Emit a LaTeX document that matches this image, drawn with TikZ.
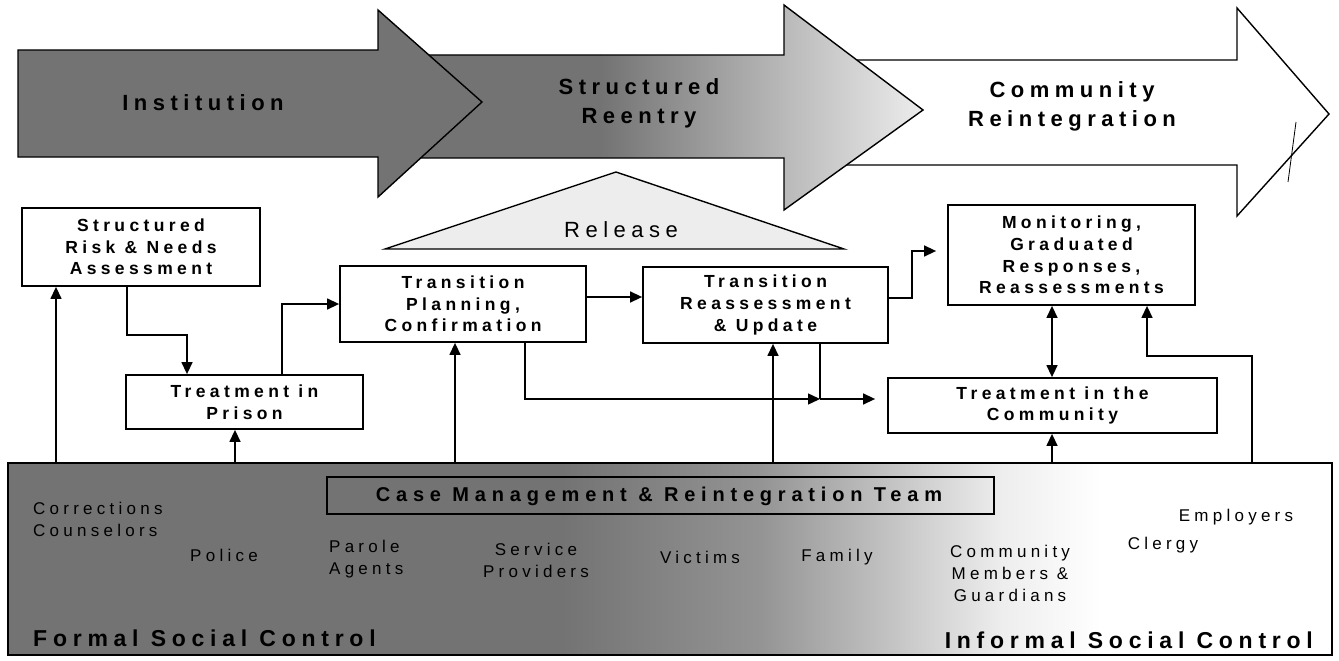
\documentclass[tikz,border=0pt]{standalone}
\usepackage{fontspec}
\setmainfont{Liberation Sans}
\newfontfamily\lsA{Liberation Sans}[LetterSpace=25]
\newfontfamily\lsB{Liberation Sans}[LetterSpace=29]
\usetikzlibrary{arrows.meta}
\tikzset{
 box/.style={draw, line width=1.8pt, fill=white, align=center, inner sep=0pt,
   font=\lsA\bfseries\fontsize{17.5}{21.7}\selectfont},
 conn/.style={line width=1.4pt, -{Triangle[length=12pt,width=11pt]}},
 dconn/.style={line width=1.4pt, {Triangle[length=12pt,width=11pt]}-{Triangle[length=12pt,width=11pt]}},
 plain/.style={line width=1.4pt},
 bigarrow/.style={draw, line width=1.4pt, line join=miter},
 arrtxt/.style={align=center, inner sep=0pt, font=\lsA\bfseries\fontsize{22}{29}\selectfont},
 reltxt/.style={inner sep=0pt, font=\lsA\fontsize{22}{26}\selectfont},
 lbl/.style={align=center, inner sep=0pt, font=\lsA\fontsize{17}{22}\selectfont},
 teamtxt/.style={inner sep=0pt, font=\lsB\bfseries\fontsize{20}{24}\selectfont},
 ctrl/.style={inner sep=0pt, font=\lsA\bfseries\fontsize{23}{28}\selectfont},
}
\begin{document}
\begin{tikzpicture}[x=1pt,y=-1pt]
\useasboundingbox (0,0) rectangle (1339,661);

% ---- big arrow 3 (Community Reintegration) ----
\filldraw[bigarrow, fill=white] (830,60) -- (1237,60) -- (1237,8) -- (1329,114) -- (1237,216) -- (1237,165) -- (830,165) -- cycle;
\draw[line width=0.8pt] (1296,122) -- (1288,182);

% ---- big arrow 2 (Structured Reentry) ----
\begin{scope}
\clip (420,55) -- (784,55) -- (784,5) -- (923,110) -- (784,210) -- (784,158) -- (420,158) -- cycle;
\fill[black!55] (420,0) rectangle (601,215);
\shade[left color=black!55, right color=black!28] (600,0) rectangle (781,215);
\shade[left color=black!28, right color=black!7] (780,0) rectangle (925,215);
\end{scope}
\draw[bigarrow] (420,55) -- (784,55) -- (784,5) -- (923,110) -- (784,210) -- (784,158) -- (420,158) -- cycle;

% ---- big arrow 1 (Institution) ----
\filldraw[bigarrow, fill=black!55] (18,50) -- (378,50) -- (378,10) -- (482,102) -- (378,197) -- (378,157) -- (18,157) -- cycle;

\node[arrtxt] (tinst) at (203,103) {Institution};
\node[arrtxt] (tsr) at (639,103) {Structured\\Reentry};
\node[arrtxt] (tcr) at (1072,106) {Community\\Reintegration};

% ---- Release triangle ----
\filldraw[fill=black!7, line width=1.4pt, line join=miter] (385,249) -- (616,172) -- (844,249) -- cycle;
\node[reltxt] (rel) at (621,230) {Release};

% ---- bottom panel ----
\fill[black!55] (8,463) rectangle (561,655);
\shade[left color=black!55, right color=black!42] (560,463) rectangle (761,655);
\shade[left color=black!42, right color=black!22] (760,463) rectangle (901,655);
\shade[left color=black!22, right color=black!7] (900,463) rectangle (1001,655);
\shade[left color=black!7, right color=white] (1000,463) rectangle (1101,655);
\node[draw, line width=1.6pt, minimum width=1324pt, minimum height=192pt, inner sep=0pt] (bot) at (670,559) {};

\node[draw, line width=1.8pt, minimum width=667pt, minimum height=37pt, inner sep=0pt] (cmrt) at (660.5,495.5) {};
\node[teamtxt] (team) at (659,496) {Case Management \& Reintegration Team};

\node[lbl, align=left, anchor=west] (corr) at (33,519) {Corrections\\Counselors};
\node[lbl] (police) at (224,555) {Police};
\node[lbl, align=left, anchor=west] (parole) at (329,559) {Parole\\Agents};
\node[lbl] (serv) at (536,560) {Service\\Providers};
\node[lbl] (vict) at (700,557) {Victims};
\node[lbl] (fam) at (837,557) {Family};
\node[lbl] (cmg) at (1010,573) {Community\\Members \&\\Guardians};
\node[lbl] (clergy) at (1163,545) {Clergy};
\node[lbl] (empl) at (1236,517) {Employers};
\node[ctrl, anchor=west] (formal) at (33,638) {Formal Social Control};
\node[ctrl, anchor=east] (informal) at (1313,640) {Informal Social Control};

% ---- process boxes ----
\node[box, minimum width=238pt, minimum height=78pt] (srna) at (141,247) {Structured\\Risk \& Needs\\Assessment};
\node[box, minimum width=237pt, minimum height=54pt] (tip) at (244.5,402) {Treatment in\\Prison};
\node[box, minimum width=246pt, minimum height=76pt] (tpc) at (463,304) {Transition\\Planning,\\Confirmation};
\node[box, minimum width=245pt, minimum height=76pt] (tru) at (765.5,305) {Transition\\Reassessment\\\& Update};
\node[box, minimum width=247pt, minimum height=100pt] (mgrr) at (1071.5,255) {Monitoring,\\Graduated\\Responses,\\Reassessments};
\node[box, minimum width=329pt, minimum height=55pt] (tic) at (1052.5,405.5) {Treatment in the\\Community};

% ---- helper coordinates ----
\coordinate (c1) at (56,0);
\coordinate (c2) at (235,0);
\coordinate (c3) at (455,0);
\coordinate (c4) at (773,0);
\coordinate (c5) at (1052,0);
\coordinate (c7) at (1147,0);
\coordinate (d1) at (127,335);
\coordinate (d2) at (187,335);
\coordinate (e1) at (282,304);
\coordinate (f1) at (525,399);
\coordinate (j) at (820,399);
\coordinate (g1) at (912,298);
\coordinate (g2) at (912,251);
\coordinate (h1) at (1252,356);

% ---- connectors ----
\draw[conn] (srna.south -| d1) -- (d1) -- (d2) -- (tip.north -| d2);
\draw[conn] (tip.north -| e1) -- (e1) -- (tpc.west |- e1);
\draw[conn] ([yshift=7pt]tpc.east) -- ([yshift=7pt]tpc.east -| tru.west);
\draw[conn] (tpc.south -| f1) -- (f1) -- (j);
\draw[plain] (tru.south -| j) -- (j);
\draw[conn] (j) -- ([xshift=-12pt]tic.west |- j);
\draw[conn] (tru.east |- g1) -- (g1) -- (g2) -- ([xshift=-11pt]mgrr.west |- g2);
\draw[dconn] (mgrr.south -| c5) -- (tic.north -| c5);

\draw[conn] (bot.north -| c1) -- (srna.south -| c1);
\draw[conn] (bot.north -| c2) -- (tip.south -| c2);
\draw[conn] (bot.north -| c3) -- (tpc.south -| c3);
\draw[conn] (bot.north -| c4) -- (tru.south -| c4);
\draw[conn] (bot.north -| c5) -- (tic.south -| c5);
\draw[conn] (bot.north -| h1) -- (h1) -- (h1 -| c7) -- (mgrr.south -| c7);
\end{tikzpicture}
\end{document}
